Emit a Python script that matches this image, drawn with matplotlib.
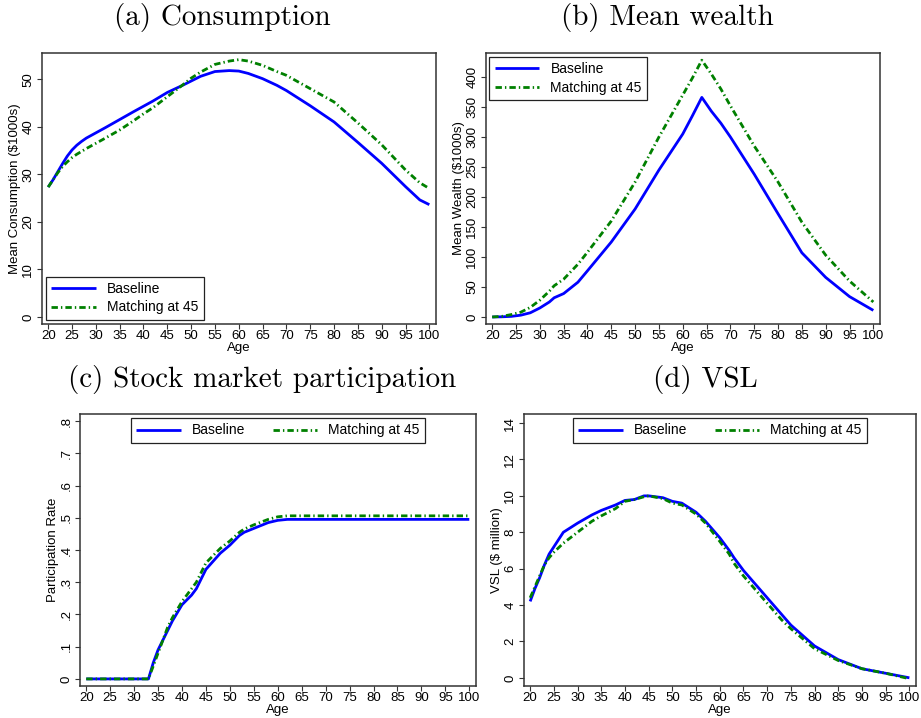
import numpy as np
import matplotlib
matplotlib.use("Agg")
import matplotlib.pyplot as plt

plt.rcParams['font.family'] = ['Liberation Sans Narrow', 'Liberation Sans', 'DejaVu Sans']

# (a) consumption
ages_a = [20, 21, 22, 23, 24, 25, 26, 27, 28, 30, 32, 35, 38, 40, 42, 45, 48, 50, 52,
          55, 58, 60, 62, 65, 68, 70, 75, 80, 85, 90, 95, 98, 100]
cons_base = [27.3, 28.8, 30.5, 32.2, 33.8, 35.1, 36.1, 36.9, 37.6, 38.7, 39.8, 41.5, 43.2,
             44.3, 45.4, 47.2, 48.6, 49.6, 50.6, 51.6, 51.8, 51.7, 51.2, 50.1, 48.7, 47.6,
             44.4, 41.0, 36.7, 32.3, 27.4, 24.6, 23.6]
cons_match = [27.3, 28.8, 30.3, 31.6, 32.6, 33.5, 34.2, 34.8, 35.4, 36.5, 37.6, 39.3, 41.3,
              42.7, 44.0, 46.3, 48.6, 50.2, 51.5, 53.1, 53.8, 54.1, 53.8, 52.9, 51.6, 50.8,
              48.0, 45.2, 40.8, 36.2, 30.9, 28.2, 27.0]

# (b) mean wealth
ages_b = [20, 22, 24, 26, 28, 30, 32, 33, 35, 38, 40, 45, 50, 55, 60, 62, 64, 66, 68, 70,
          75, 80, 85, 90, 95, 100]
wealth_base = [0, 0.3, 1, 3, 7, 15, 25, 32, 39, 58, 77, 125, 180, 245, 305, 335, 366, 343,
               323, 300, 238, 172, 107, 66, 34, 11]
wealth_match = [0, 1, 4, 8, 16, 28, 43, 52, 63, 88, 108, 160, 225, 300, 370, 398, 428, 405,
                380, 352, 285, 225, 158, 103, 60, 25]

# (c) stock market participation
ages_c = [20, 33, 34, 35, 36, 37, 38, 40, 42, 43, 45, 48, 50, 52, 53, 55, 58, 60, 62, 65, 100]
part_base = [0, 0, 0.05, 0.09, 0.12, 0.15, 0.18, 0.23, 0.26, 0.28, 0.34, 0.39, 0.415, 0.445,
             0.455, 0.467, 0.485, 0.492, 0.495, 0.495, 0.495]
part_match = [0, 0, 0.04, 0.08, 0.12, 0.16, 0.19, 0.24, 0.28, 0.30, 0.36, 0.405, 0.428, 0.455,
              0.465, 0.478, 0.495, 0.503, 0.506, 0.506, 0.506]

# (d) VSL
ages_d = [20, 21, 22, 23, 24, 25, 27, 30, 33, 35, 38, 40, 42, 44, 45, 48, 50, 52, 55, 57, 60,
          62, 63, 65, 68, 70, 73, 75, 80, 85, 90, 95, 100]
vsl_base = [4.2, 4.9, 5.5, 6.2, 6.8, 7.2, 8.0, 8.5, 8.95, 9.2, 9.5, 9.75, 9.8, 10.0, 10.0, 9.9,
            9.7, 9.6, 9.1, 8.6, 7.7, 7.0, 6.6, 5.9, 5.0, 4.4, 3.5, 2.9, 1.75, 1.0, 0.5, 0.25, 0.0]
vsl_match = [4.4, 5.0, 5.6, 6.2, 6.6, 6.9, 7.4, 8.0, 8.6, 8.9, 9.3, 9.7, 9.8, 9.95, 10.0, 9.85,
             9.6, 9.5, 9.0, 8.5, 7.5, 6.8, 6.3, 5.6, 4.7, 4.1, 3.2, 2.7, 1.6, 0.95, 0.5, 0.25,
             -0.05]

age_ticks = list(range(20, 101, 5))
blue = '#0000ff'
green = '#008000'


def draw_panel(ax, ages, base, match, ylabel, yticks, ylabels, ylim, legend_kw):
    ax.plot(ages, base, color=blue, lw=2.0, label='Baseline', solid_capstyle='butt')
    ax.plot(ages, match, color=green, lw=2.0, dashes=(2.3, 1.1, 0.5, 1.1),
            label='Matching at 45')
    ax.set_xlim(18.7, 101.4)
    ax.set_ylim(*ylim)
    ax.set_xticks(age_ticks)
    ax.set_yticks(yticks)
    ax.set_yticklabels(ylabels, rotation=90, va='center')
    ax.tick_params(axis='both', direction='out', length=3.5, width=0.8, labelsize=9.5,
                   color='#333333')
    ax.tick_params(axis='x', pad=1)
    ax.tick_params(axis='y', pad=2)
    for sp in ax.spines.values():
        sp.set_linewidth(1.1)
        sp.set_color('#333333')
    ax.set_xlabel('Age', fontsize=9.5, labelpad=0)
    ax.set_ylabel(ylabel, fontsize=9.5, labelpad=1)
    leg = ax.legend(fontsize=10, fancybox=False, framealpha=1, edgecolor='#222222',
                    handlelength=3.2, borderaxespad=0, borderpad=0.4, labelspacing=0.3,
                    handletextpad=0.8, **legend_kw)
    leg.get_frame().set_linewidth(0.9)


fig = plt.figure(figsize=(9.21, 7.18), dpi=100)
W, H = 921, 718


def add_axes(x0, x1, y0, y1):
    return fig.add_axes([x0 / W, 1 - y1 / H, (x1 - x0) / W, (y1 - y0) / H])


ax_a = add_axes(42, 436, 53, 324)
ax_b = add_axes(486, 880, 53, 324)
ax_c = add_axes(80, 476, 414, 686)
ax_d = add_axes(524, 916, 414, 686)

draw_panel(ax_a, ages_a, cons_base, cons_match, 'Mean Consumption (\\$1000s)',
           [0, 10, 20, 30, 40, 50], ['0', '10', '20', '30', '40', '50'], (-1.5, 55.5),
           dict(loc='lower left', bbox_to_anchor=(0.009, 0.015)))
draw_panel(ax_b, ages_b, wealth_base, wealth_match, 'Mean Wealth (\\$1000s)',
           list(range(0, 401, 50)), [str(v) for v in range(0, 401, 50)], (-11.7, 440),
           dict(loc='upper left', bbox_to_anchor=(0.0085, 0.986)))
draw_panel(ax_c, ages_c, part_base, part_match, 'Participation Rate',
           [0, .1, .2, .3, .4, .5, .6, .7, .8], ['0', '.1', '.2', '.3', '.4', '.5', '.6', '.7', '.8'],
           (-0.022, 0.822),
           dict(loc='upper center', bbox_to_anchor=(0.5, 0.986), ncol=2, columnspacing=2.0))
draw_panel(ax_d, ages_d, vsl_base, vsl_match, 'VSL (\\$ million)',
           [0, 2, 4, 6, 8, 10, 12, 14], ['0', '2', '4', '6', '8', '10', '12', '14'],
           (-0.45, 14.5),
           dict(loc='upper center', bbox_to_anchor=(0.5, 0.986), ncol=2, columnspacing=2.0))

title_kw = dict(ha='center', va='center', fontsize=21, family='cmr10')
fig.text(222 / W, 1 - 18 / H, '(a) Consumption', **title_kw)
fig.text(667 / W, 1 - 18 / H, '(b) Mean wealth', **title_kw)
fig.text(262 / W, 1 - 379 / H, '(c) Stock market participation', **title_kw)
fig.text(705 / W, 1 - 379 / H, '(d) VSL', **title_kw)

fig.savefig('out.png', dpi=100)
